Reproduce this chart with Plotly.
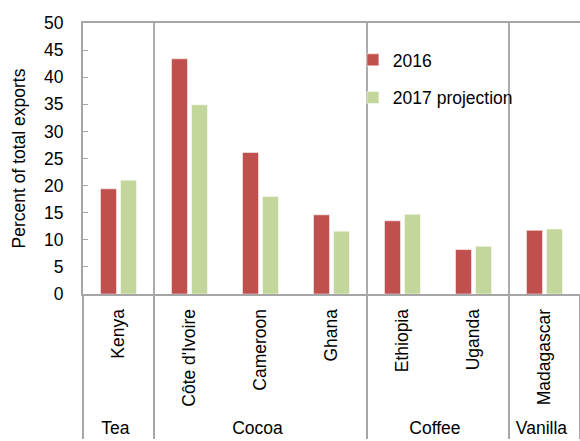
import plotly.graph_objects as go

groups = ["Tea", "Cocoa", "Cocoa", "Cocoa", "Coffee", "Coffee", "Vanilla"]
countries = ["Kenya", "Côte d'Ivoire", "Cameroon", "Ghana", "Ethiopia", "Uganda", "Madagascar"]
v2016 = [19.4, 43.4, 26.1, 14.6, 13.5, 8.2, 11.75]
v2017 = [21.0, 34.9, 18.0, 11.6, 14.7, 8.8, 12.0]
separators = [0.5, 3.5, 5.5]

FONT = "Liberation Sans, Arial, sans-serif"
FS = 17.5

fig = go.Figure()
fig.add_trace(go.Bar(x=[groups, countries], y=v2016, name="2016",
                     marker=dict(color="#C0504D", line=dict(color="white", width=0.5)),
                     legendgroup="a"))
fig.add_trace(go.Bar(x=[groups, countries], y=v2017, name="2017 projection",
                     marker=dict(color="#C3D69B", line=dict(color="white", width=0.5)),
                     legendgroup="b"))

for s in separators:
    fig.add_shape(type="line", xref="x", yref="paper", x0=s, x1=s, y0=0, y1=1,
                  line=dict(color="#595959", width=1), layer="below")

fig.update_layout(
    width=580, height=441,
    margin=dict(l=83, r=0, t=23, b=147),
    paper_bgcolor="white", plot_bgcolor="white",
    font=dict(family=FONT, size=FS, color="black"),
    barmode="group", bargap=0.437, bargroupgap=0.2,
    showlegend=True,
    legend=dict(x=0.543, y=0.93, xanchor="left", yanchor="top",
                bgcolor="rgba(0,0,0,0)", tracegroupgap=12,
                font=dict(family=FONT, size=FS), itemwidth=30),
    xaxis=dict(type="multicategory", tickangle=-90, showline=True, mirror=True,
               linecolor="#a6a6a6", linewidth=2, showgrid=False, ticks="",
               showdividers=True, dividercolor="#a6a6a6", dividerwidth=1.5,
               ticklabelstandoff=6,
               tickfont=dict(family=FONT, size=FS)),
    yaxis=dict(range=[0, 50], dtick=5, showline=True, linecolor="#a6a6a6", linewidth=2,
               showgrid=False, zeroline=False, ticks="inside", ticklen=5,
               tickcolor="#a6a6a6", ticklabelstandoff=14,
               title=dict(text="Percent of total exports", standoff=14,
                          font=dict(family=FONT, size=FS)),
               tickfont=dict(family=FONT, size=FS)),
)

fig.write_html("out.html")
